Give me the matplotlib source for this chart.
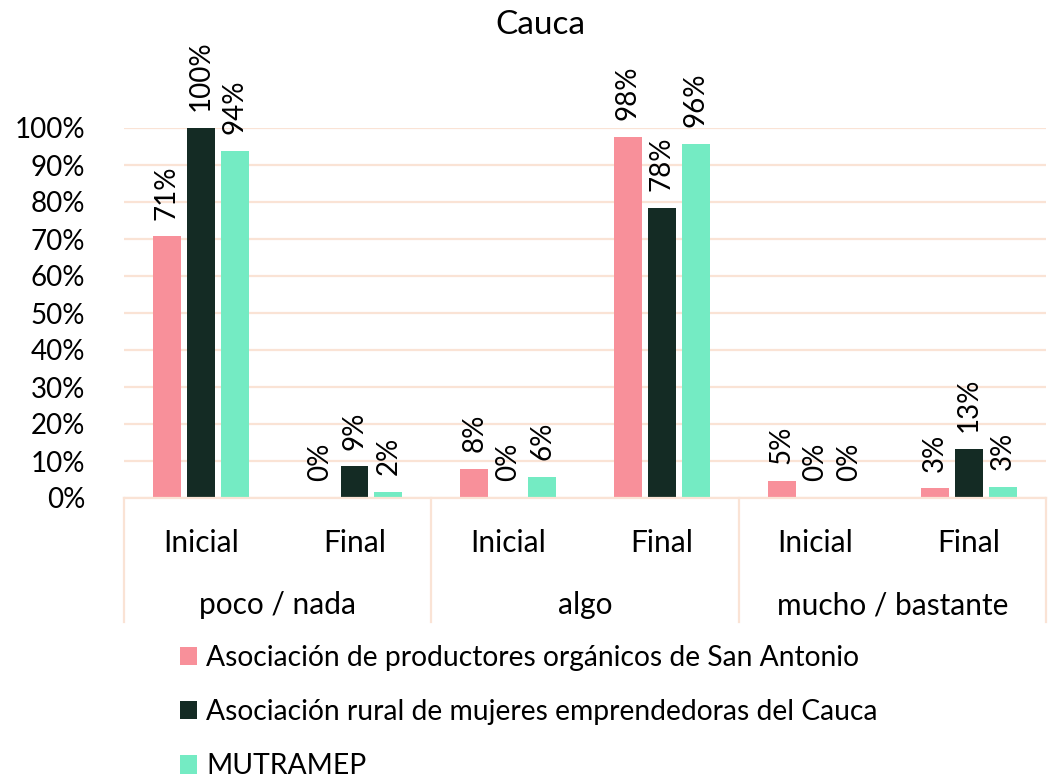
import matplotlib.pyplot as plt
import matplotlib.transforms as mtransforms
from matplotlib.ticker import PercentFormatter
import numpy as np

plt.rcParams['font.family'] = ['Lato', 'DejaVu Sans']

# data (fractions)
etapas = ["Inicial", "Final", "Inicial", "Final", "Inicial", "Final"]
categorias = ["poco / nada", "algo", "mucho / bastante"]
series = ["Asociación de productores orgánicos de San Antonio",
          "Asociación rural de mujeres emprendedoras del Cauca",
          "MUTRAMEP"]
san_antonio = [0.707, 0.0, 0.078, 0.976, 0.046, 0.026]
mujeres_cauca = [1.0, 0.086, 0.0, 0.784, 0.0, 0.132]
mutramep = [0.938, 0.016, 0.057, 0.957, 0.0, 0.030]
colores = ['#F8909A', '#142B24', '#74EBC3']

fs_num = 20
fs_txt = 21.5
grid_col = '#FAE3D5'

fig = plt.figure(figsize=(10.51, 7.84), dpi=100)
ax = fig.add_axes([124/1051, 1-498/784, (1046-124)/1051, 370/784])

x = np.arange(len(etapas))
w = 0.182
step = 0.221
for i, (vals, col) in enumerate(zip([san_antonio, mujeres_cauca, mutramep], colores)):
    xs = x + (i - 1) * step
    ax.bar(xs, vals, width=w, color=col, label=series[i], zorder=3)
    for xi, v in zip(xs, vals):
        ax.annotate(f"{round(v*100):.0f}%", (xi, v), xytext=(0, 12),
                    textcoords='offset points', rotation=90,
                    ha='center', va='bottom', fontsize=fs_num, clip_on=False)

ax.set_xlim(-0.5, 5.5)
ax.set_ylim(0, 1.0)
ax.set_yticks(np.arange(0, 1.01, 0.1))
ax.yaxis.set_major_formatter(PercentFormatter(1.0, decimals=0))
ax.tick_params(axis='y', length=0, pad=28, labelsize=fs_num)
ax.set_xticks([])
ax.grid(axis='y', color=grid_col, linewidth=1.6, zorder=0)
for s in ['top', 'right', 'left']:
    ax.spines[s].set_visible(False)
ax.spines['bottom'].set_color(grid_col)
ax.spines['bottom'].set_linewidth(1.6)
ax.spines['bottom'].set_zorder(4)

trans = mtransforms.blended_transform_factory(ax.transData, ax.transAxes)
for xi, lab in zip(x, etapas):
    ax.text(xi, -0.122, lab, transform=trans, ha='center', va='center', fontsize=fs_txt)
for j, cat in enumerate(categorias):
    ax.text(2*j + 0.5, -0.29, cat, transform=trans, ha='center', va='center', fontsize=fs_txt)
for xb in [-0.5, 1.5, 3.5, 5.5]:
    ax.plot([xb, xb], [0, -0.335], transform=trans, color=grid_col,
            linewidth=1.6, clip_on=False)

fig.text(540/1051, 1-25/784, "Cauca", ha='center', va='center', fontsize=24)

fig.legend(loc='upper left', bbox_to_anchor=(180/1051, 1-645/784), frameon=False,
           fontsize=20.3, handlelength=0.62, handleheight=0.62, handletextpad=0.3,
           labelspacing=1.0, borderpad=0, borderaxespad=0)

fig.savefig('out.png', dpi=100)
